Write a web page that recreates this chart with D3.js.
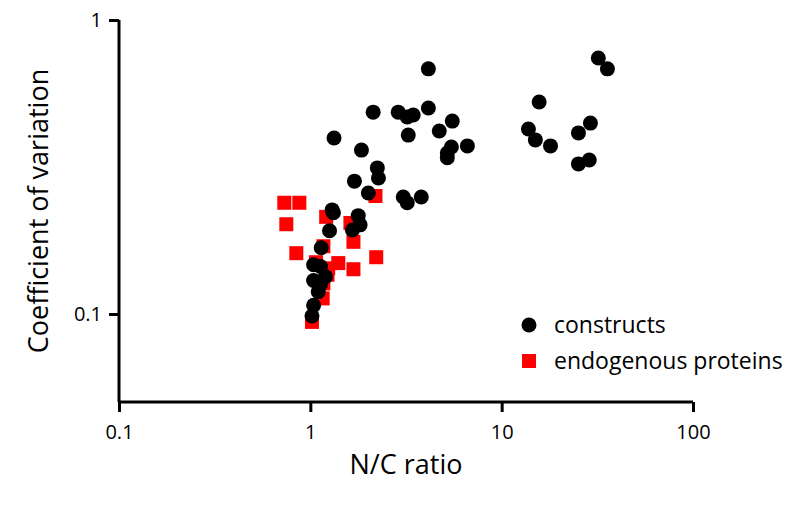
<!DOCTYPE html><html><head><meta charset="utf-8"><script src="https://cdn.jsdelivr.net/npm/d3@7"></script>
<style>body{margin:0;background:#fff}svg{font-family:"Open Sans",sans-serif}</style></head><body><svg width="800" height="514"></svg><script>
const xTicks=[0.1,1,10,100], xTickLabels=["0.1","1","10","100"];
const yTicks=[0.1,1], yTickLabels=["0.1","1"];
const constructsX=[4.14,32.0,35.7,2.13,2.88,3.21,3.45,4.14,5.52,4.72,3.25,1.33,1.85,5.46,5.20,5.20,6.62,2.24,2.27,1.70,2.01,3.06,3.21,3.80,1.30,15.7,13.8,15.0,18.0,29.1,25.2,28.7,25.2,1.32,1.78,1.82,1.66,1.26,1.14,1.04,1.13,1.20,1.04,1.13,1.10,1.04,1.02];
const constructsY=[0.682,0.743,0.682,0.486,0.486,0.468,0.475,0.502,0.453,0.419,0.406,0.397,0.361,0.370,0.353,0.340,0.373,0.314,0.290,0.283,0.258,0.250,0.239,0.250,0.226,0.526,0.426,0.391,0.373,0.446,0.413,0.334,0.324,0.221,0.216,0.201,0.193,0.192,0.168,0.147,0.145,0.134,0.130,0.126,0.119,0.107,0.0985];
const endoX=[0.731,0.876,0.749,1.21,1.62,2.19,0.845,1.17,1.40,1.07,1.68,2.21,1.68,1.24,1.17,1.16,1.02,1.23];
const endoY=[0.239,0.239,0.202,0.214,0.204,0.252,0.161,0.170,0.149,0.150,0.142,0.156,0.176,0.143,0.127,0.113,0.094,0.136];
const svg=d3.select("svg");
const x=d3.scaleLog().domain([0.1,100]).range([119,693]);
const y=d3.scaleLog().domain([Math.pow(10,-1-88/294),1]).range([402,20]);
const gx=svg.append("g").attr("transform","translate(0,402)").call(d3.axisBottom(x).tickValues(xTicks).tickFormat((d,i)=>xTickLabels[i]).tickSize(10).tickSizeOuter(0));
const gy=svg.append("g").attr("transform","translate(119,0)").call(d3.axisLeft(y).tickValues(yTicks).tickFormat((d,i)=>yTickLabels[i]).tickSize(10).tickSizeOuter(0));
[gx,gy].forEach(g=>{g.selectAll("path,line").attr("stroke","#000").attr("stroke-width",3);g.selectAll("text").attr("font-size",20).attr("font-family","Open Sans").attr("fill","#000");});
gx.selectAll("text").attr("dy","1.2em");
gy.selectAll("text").attr("dx","-0.2em");
gx.select("path").attr("d","M119,0H693");
gy.select("path").attr("d","M0,402V20");
svg.append("g").selectAll("rect").data(endoX).join("rect").attr("x",(d)=>x(d)-7).attr("y",(d,i)=>y(endoY[i])-7).attr("width",14).attr("height",14).attr("fill","#f00");
svg.append("g").selectAll("circle").data(constructsX).join("circle").attr("cx",d=>x(d)).attr("cy",(d,i)=>y(constructsY[i])).attr("r",7.5).attr("fill","#000");
svg.append("text").attr("x",406).attr("y",474).attr("text-anchor","middle").attr("font-size",27).text("N/C ratio");
svg.append("text").attr("transform","translate(48,211) rotate(-90)").attr("text-anchor","middle").attr("font-size",27).text("Coefficient of variation");
svg.append("circle").attr("cx",529).attr("cy",325).attr("r",7.5).attr("fill","#000");
svg.append("rect").attr("x",522).attr("y",354).attr("width",14).attr("height",14).attr("fill","#f00");
svg.append("text").attr("x",554).attr("y",333).attr("font-size",23).text("constructs");
svg.append("text").attr("x",554).attr("y",369).attr("font-size",23).text("endogenous proteins");
</script></body></html>
